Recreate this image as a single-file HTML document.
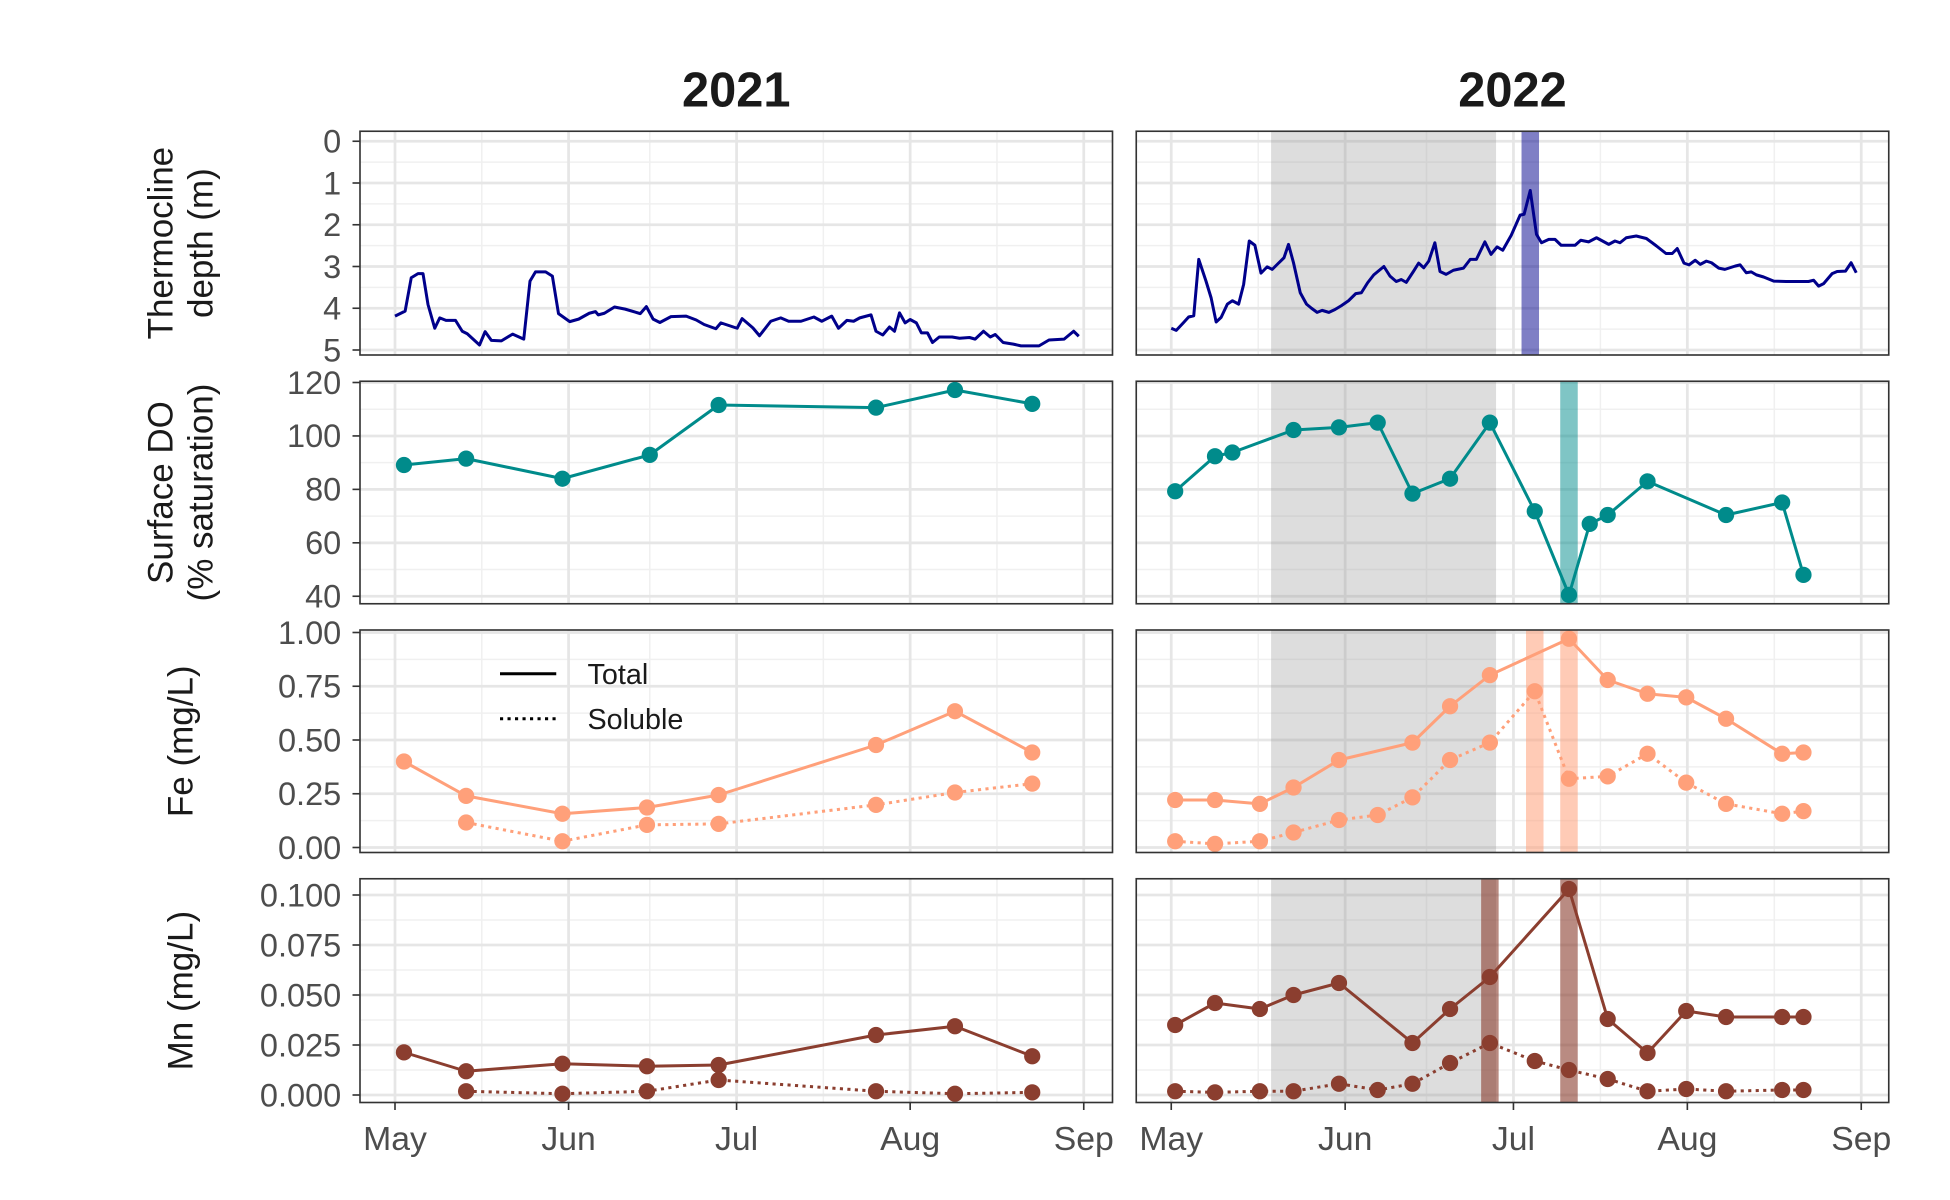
<!DOCTYPE html>
<html><head><meta charset="utf-8"><style>html,body{margin:0;padding:0;background:#fff}svg{display:block}</style></head>
<body>
<svg id="c" width="1950" height="1200" viewBox="0 0 1560 960" xmlns="http://www.w3.org/2000/svg" font-family="Liberation Sans, sans-serif"></svg>
<script>
// ---- data (days since May 1) ----
const monthLabels=["May","Jun","Jul","Aug","Sep"];
const monthDays=[0,31,61,92,123];
const yearLabels=["2021","2022"];
const thermoDays21=[0,1.8,2.9,4.1,5,5.9,7.1,8,9.1,10.8,12,12.9,15.1,16.1,17.2,19,21,23,24.1,25.1,26.9,28.1,29.2,31.2,32.8,34.7,35.8,36.3,37.4,39.2,41.1,43.8,44.9,46.1,47.3,49.3,52,53.8,55.2,57.3,58.2,61.1,62,63.9,65.1,67.1,68.9,70.3,72.5,74.8,76.2,78,79.2,80.7,81.9,83,85,85.9,87.1,88.3,89.2,90.1,91.1,92,93.1,94,95.1,96,97.2,99.5,100.8,102.6,103.6,105.1,106.3,107.2,108.6,110.4,111.8,115,116.8,119.5,121.2,122.1];
const thermoVals21=[4.19,4.07,3.27,3.17,3.17,3.91,4.48,4.23,4.29,4.29,4.55,4.61,4.88,4.56,4.77,4.78,4.62,4.74,3.35,3.13,3.13,3.23,4.13,4.32,4.26,4.12,4.08,4.16,4.12,3.97,4.02,4.13,3.96,4.26,4.34,4.2,4.19,4.28,4.39,4.49,4.35,4.48,4.25,4.47,4.66,4.31,4.23,4.31,4.31,4.21,4.31,4.19,4.48,4.29,4.31,4.23,4.16,4.55,4.64,4.45,4.55,4.11,4.35,4.27,4.35,4.59,4.59,4.82,4.69,4.69,4.72,4.7,4.74,4.55,4.69,4.63,4.82,4.86,4.9,4.9,4.76,4.74,4.55,4.67];
const thermoDays22=[0,0.9,2.2,3.1,4,4.9,6.2,7.1,8,8.9,10,10.9,12,12.9,13.9,14.9,16,17.1,18,18.9,20.1,20.9,21.8,23,24.1,25,26,26.9,28.1,29.2,30.3,31.6,32.9,33.9,35,36.1,37.9,39,40.1,41,41.9,43.2,44.1,45,45.9,47,47.9,49,50.3,52.1,53.3,54.4,55.9,57,58.1,59.1,60.6,62.2,62.9,64,65.1,66,67.3,68.4,69.5,72,73,74.4,75.8,78,79.1,80,81.1,82.9,84.7,86.5,88.2,89.3,90.2,91.4,92.3,93.4,94.3,95.4,96.3,97.6,98.7,100.5,101.4,102.5,103.4,104.3,105.6,107.4,109.6,113.6,114.5,115.4,116.3,117.8,118.7,120.2,121.2,122.1];
const thermoVals22=[4.48,4.53,4.34,4.21,4.18,2.83,3.35,3.75,4.33,4.22,3.9,3.82,3.9,3.43,2.39,2.49,3.16,3.01,3.07,2.95,2.79,2.47,2.91,3.63,3.9,4,4.1,4.05,4.1,4.03,3.94,3.82,3.65,3.63,3.39,3.2,3,3.23,3.36,3.31,3.38,3.11,2.92,3.03,2.87,2.43,3.12,3.19,3.09,3.04,2.83,2.83,2.41,2.71,2.53,2.61,2.25,1.77,1.75,1.18,2.23,2.43,2.35,2.35,2.49,2.49,2.37,2.41,2.31,2.47,2.39,2.43,2.31,2.27,2.33,2.51,2.69,2.69,2.57,2.92,2.96,2.85,2.95,2.87,2.91,3.04,3.07,2.99,2.96,3.15,3.13,3.2,3.25,3.35,3.36,3.36,3.33,3.47,3.41,3.17,3.12,3.11,2.91,3.15];
const doDays21=[1.6,12.7,29.9,45.5,57.8,85.9,100,113.8];
const doVals21=[89.1,91.5,84,92.9,111.6,110.6,117.2,112];
const doDays22=[0.7,7.8,10.9,21.8,29.9,36.8,43,49.7,56.8,64.8,70.9,74.6,77.8,84.9,98.9,108.9,112.7];
const doVals22=[79.3,92.4,93.8,102.2,103.2,105,78.4,84,105,71.8,40.5,67.1,70.4,83,70.4,75.1,48];
const feTotDays21=[1.6,12.7,29.9,45,57.8,85.9,100,113.8];
const feTotVals21=[0.40,0.24,0.157,0.186,0.244,0.477,0.634,0.442];
const feSolDays21=[12.7,29.9,45,57.8,85.9,100,113.8];
const feSolVals21=[0.116,0.029,0.105,0.11,0.198,0.256,0.297];
const feTotDays22=[0.7,7.8,15.8,21.8,29.9,43,49.7,56.8,70.9,77.8,84.9,91.8,98.9,108.9,112.7];
const feTotVals22=[0.221,0.221,0.203,0.279,0.407,0.488,0.657,0.802,0.971,0.779,0.715,0.698,0.599,0.436,0.442];
const feSolDays22=[0.7,7.8,15.8,21.8,29.9,36.8,43,49.7,56.8,64.8,70.9,77.8,84.9,91.8,98.9,108.9,112.7];
const feSolVals22=[0.029,0.017,0.029,0.07,0.128,0.151,0.233,0.407,0.488,0.727,0.32,0.331,0.436,0.302,0.203,0.157,0.169];
const mnTotDays21=[1.6,12.7,29.9,45,57.8,85.9,100,113.8];
const mnTotVals21=[0.0213,0.0119,0.0156,0.0144,0.015,0.030,0.0344,0.0194];
const mnSolDays21=[12.7,29.9,45,57.8,85.9,100,113.8];
const mnSolVals21=[0.0019,0.0006,0.0019,0.0075,0.0019,0.0006,0.0013];
const mnTotDays22=[0.7,7.8,15.8,21.8,29.9,43,49.7,56.8,70.9,77.8,84.9,91.8,98.9,108.9,112.7];
const mnTotVals22=[0.035,0.046,0.043,0.05,0.056,0.026,0.043,0.059,0.103,0.038,0.021,0.042,0.039,0.039,0.039];
const mnSolDays22=[0.7,7.8,15.8,21.8,29.9,36.8,43,49.7,56.8,64.8,70.9,77.8,84.9,91.8,98.9,108.9,112.7];
const mnSolVals22=[0.0019,0.0013,0.0019,0.0019,0.0056,0.0025,0.0056,0.016,0.026,0.017,0.0125,0.008,0.0019,0.003,0.0019,0.0025,0.0025];
const grayBand=[17.8,57.9];
const thermoBands=[64];
const doBands=[70.9];
const feBands=[64.8,70.9];
const mnBands=[56.8,70.9];

const NS="http://www.w3.org/2000/svg";
const svg=document.getElementById('c');
function el(tag,attrs,parent){const e=document.createElementNS(NS,tag);for(const k in attrs)e.setAttribute(k,attrs[k]);(parent||svg).appendChild(e);return e;}
const cols=[{x0:288,x1:890,d0:316,d1:867},{x0:909,x1:1511,d0:937,d1:1489}];
const rows=[
 {y0:105,y1:284,v0:0,p0:113,v1:5,p1:280,ticks:[0,1,2,3,4,5],minor:[0.5,1.5,2.5,3.5,4.5],fmt:v=>String(v)},
 {y0:305,y1:483,v0:120,p0:306,v1:40,p1:477,ticks:[40,60,80,100,120],minor:[50,70,90,110],fmt:v=>String(v)},
 {y0:504,y1:682,v0:1,p0:506,v1:0,p1:678,ticks:[0,0.25,0.5,0.75,1],minor:[0.125,0.375,0.625,0.875],fmt:v=>v.toFixed(2)},
 {y0:703,y1:882,v0:0.1,p0:716,v1:0,p1:876,ticks:[0,0.025,0.05,0.075,0.1],minor:[0.0125,0.0375,0.0625,0.0875],fmt:v=>v.toFixed(3)}
];
function xs(c,d){return cols[c].d0+(cols[c].d1-cols[c].d0)*d/123;}
function ys(r,v){const R=rows[r];return R.p0+(R.p1-R.p0)*(v-R.v0)/(R.v1-R.v0);}
const minorDays=[15.5,45.5,76.5,107.5];
const yTitles=[["Thermocline","depth (m)"],["Surface DO","(% saturation)"],["Fe (mg/L)"],["Mn (mg/L)"]];
const rowNames=['thermocline','surface-do','fe','mn'];

for(let r=0;r<4;r++){for(let c=0;c<2;c++){
  const C=cols[c],R=rows[r];
  const g=el('g',{});
  
  
  el('rect',{x:C.x0,y:R.y0,width:C.x1-C.x0,height:R.y1-R.y0,fill:'#fff'},g);
  minorDays.forEach(d=>el('line',{x1:xs(c,d),x2:xs(c,d),y1:R.y0,y2:R.y1,stroke:'#f0f0f0','stroke-width':1.2},g));
  R.minor.forEach(v=>el('line',{x1:C.x0,x2:C.x1,y1:ys(r,v),y2:ys(r,v),stroke:'#f0f0f0','stroke-width':1.2},g));
  monthDays.forEach(d=>el('line',{x1:xs(c,d),x2:xs(c,d),y1:R.y0,y2:R.y1,stroke:'#e6e6e6','stroke-width':2.2},g));
  R.ticks.forEach(v=>el('line',{x1:C.x0,x2:C.x1,y1:ys(r,v),y2:ys(r,v),stroke:'#e6e6e6','stroke-width':2.2},g));
  if(c===1){
    const gb=el('rect',{x:xs(1,grayBand[0]),y:R.y0,width:xs(1,grayBand[1])-xs(1,grayBand[0]),height:R.y1-R.y0,fill:'rgba(150,150,150,0.32)'},g);
    
    
    const bands=[thermoBands,doBands,feBands,mnBands][r];
    const bc=['rgba(0,0,139,0.5)','rgba(0,139,139,0.5)','rgba(255,160,122,0.55)','rgba(139,62,47,0.6)'][r];
    bands.forEach(d=>{const b=el('rect',{x:xs(1,d)-7,y:R.y0,width:14,height:R.y1-R.y0,fill:bc},g);
      
      });
  }
  const line=(days,vals,col,dash,pts,nm)=>{
    const p=days.map((d,i)=>xs(c,d).toFixed(1)+','+ys(r,vals[i]).toFixed(1)).join(' ');
    const pl=el('polyline',{points:p,fill:'none',stroke:col,'stroke-width':2.4,'stroke-dasharray':dash?'2.5,3.5':'none','stroke-linejoin':'round'},g);
    
    
    if(pts)days.forEach((d,i)=>{const ci=el('circle',{cx:xs(c,d),cy:ys(r,vals[i]),r:6.5,fill:col},g);
      
      });
  };
  if(r===0)line(c?thermoDays22:thermoDays21,c?thermoVals22:thermoVals21,'#00008b',false,false,'thermocline');
  if(r===1)line(c?doDays22:doDays21,c?doVals22:doVals21,'#008b8b',false,true,'surface-do');
  if(r===2){line(c?feTotDays22:feTotDays21,c?feTotVals22:feTotVals21,'#ffa07a',false,true,'fe-total');line(c?feSolDays22:feSolDays21,c?feSolVals22:feSolVals21,'#ffa07a',true,true,'fe-soluble');}
  if(r===3){line(c?mnTotDays22:mnTotDays21,c?mnTotVals22:mnTotVals21,'#8b3e2f',false,true,'mn-total');line(c?mnSolDays22:mnSolDays21,c?mnSolVals22:mnSolVals21,'#8b3e2f',true,true,'mn-soluble');}
  el('rect',{x:C.x0,y:R.y0,width:C.x1-C.x0,height:R.y1-R.y0,fill:'none',stroke:'#333','stroke-width':1.3},g);
  if(c===0){R.ticks.forEach(v=>{el('line',{x1:C.x0-6,x2:C.x0,y1:ys(r,v),y2:ys(r,v),stroke:'#333','stroke-width':1.3},g);
    const t=el('text',{x:C.x0-15,y:ys(r,v)+9,'text-anchor':'end','font-size':26,fill:'#4d4d4d'},g);t.textContent=R.fmt(v);
    
    });}
  if(r===3){monthDays.forEach((d,i)=>{el('line',{x1:xs(c,d),x2:xs(c,d),y1:R.y1,y2:R.y1+6,stroke:'#333','stroke-width':1.3},g);
    const t=el('text',{x:xs(c,d),y:R.y1+38,'text-anchor':'middle','font-size':27,fill:'#4d4d4d'},g);t.textContent=monthLabels[i];
    
    });}
}
 const lines=yTitles[r],cy=(rows[r].y0+rows[r].y1)/2;
 lines.forEach((s,i)=>{const x=lines.length===2?(i===0?138:170):154;
   const t=el('text',{x:x,y:cy,transform:`rotate(-90 ${x} ${cy})`,'text-anchor':'middle','font-size':28,fill:'#1a1a1a'});t.textContent=s;
   
   });
}
yearLabels.forEach((y,c)=>{const t=el('text',{x:(cols[c].x0+cols[c].x1)/2,y:85,'text-anchor':'middle','font-size':39,'font-weight':'bold',fill:'#1a1a1a'});t.textContent=y;
  
  });
const lg=el('g',{});


el('line',{x1:400,x2:445,y1:539,y2:539,stroke:'#000','stroke-width':2.4},lg);
el('line',{x1:400,x2:445,y1:575,y2:575,stroke:'#000','stroke-width':2.4,'stroke-dasharray':'2.5,3.5'},lg);
const t1=el('text',{x:470,y:547,'font-size':23,fill:'#1a1a1a'},lg);t1.textContent='Total';


const t2=el('text',{x:470,y:583,'font-size':23,fill:'#1a1a1a'},lg);t2.textContent='Soluble';


</script>
</body></html>
